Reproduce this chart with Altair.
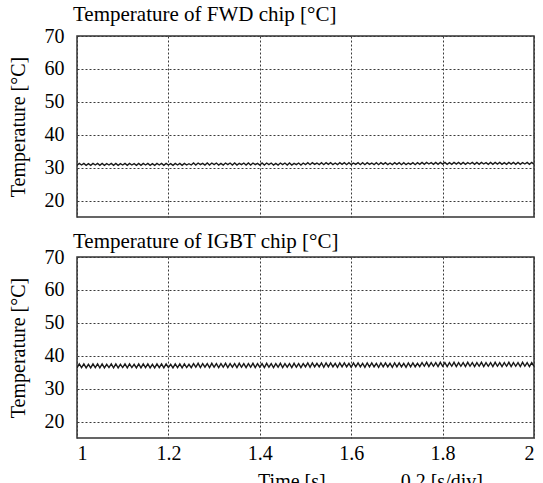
import altair as alt
import pandas as pd

# ---- data ----
time_s = [
    1.000, 1.005, 1.010, 1.015, 1.020, 1.025, 1.030, 1.035, 1.040, 1.045,
    1.050, 1.055, 1.060, 1.065, 1.070, 1.075, 1.080, 1.085, 1.090, 1.095,
    1.100, 1.105, 1.110, 1.115, 1.120, 1.125, 1.130, 1.135, 1.140, 1.145,
    1.150, 1.155, 1.160, 1.165, 1.170, 1.175, 1.180, 1.185, 1.190, 1.195,
    1.200, 1.205, 1.210, 1.215, 1.220, 1.225, 1.230, 1.235, 1.240, 1.245,
    1.250, 1.255, 1.260, 1.265, 1.270, 1.275, 1.280, 1.285, 1.290, 1.295,
    1.300, 1.305, 1.310, 1.315, 1.320, 1.325, 1.330, 1.335, 1.340, 1.345,
    1.350, 1.355, 1.360, 1.365, 1.370, 1.375, 1.380, 1.385, 1.390, 1.395,
    1.400, 1.405, 1.410, 1.415, 1.420, 1.425, 1.430, 1.435, 1.440, 1.445,
    1.450, 1.455, 1.460, 1.465, 1.470, 1.475, 1.480, 1.485, 1.490, 1.495,
    1.500, 1.505, 1.510, 1.515, 1.520, 1.525, 1.530, 1.535, 1.540, 1.545,
    1.550, 1.555, 1.560, 1.565, 1.570, 1.575, 1.580, 1.585, 1.590, 1.595,
    1.600, 1.605, 1.610, 1.615, 1.620, 1.625, 1.630, 1.635, 1.640, 1.645,
    1.650, 1.655, 1.660, 1.665, 1.670, 1.675, 1.680, 1.685, 1.690, 1.695,
    1.700, 1.705, 1.710, 1.715, 1.720, 1.725, 1.730, 1.735, 1.740, 1.745,
    1.750, 1.755, 1.760, 1.765, 1.770, 1.775, 1.780, 1.785, 1.790, 1.795,
    1.800, 1.805, 1.810, 1.815, 1.820, 1.825, 1.830, 1.835, 1.840, 1.845,
    1.850, 1.855, 1.860, 1.865, 1.870, 1.875, 1.880, 1.885, 1.890, 1.895,
    1.900, 1.905, 1.910, 1.915, 1.920, 1.925, 1.930, 1.935, 1.940, 1.945,
    1.950, 1.955, 1.960, 1.965, 1.970, 1.975, 1.980, 1.985, 1.990, 1.995,
    2.000,
]

fwd_temp = [
    30.7, 31.3, 30.8, 31.3, 30.7, 31.2, 30.7, 31.3, 30.8, 31.3,
    30.7, 31.3, 30.7, 31.2, 30.8, 31.3, 30.7, 31.3, 30.7, 31.2,
    30.8, 31.3, 30.7, 31.3, 30.8, 31.2, 30.7, 31.3, 30.7, 31.3,
    30.8, 31.3, 30.7, 31.2, 30.7, 31.3, 30.8, 31.3, 30.7, 31.3,
    30.8, 31.2, 30.7, 31.3, 30.8, 31.3, 30.7, 31.3, 30.8, 31.2,
    30.8, 31.4, 30.8, 31.4, 30.9, 31.3, 30.8, 31.4, 30.8, 31.4,
    30.9, 31.4, 30.8, 31.3, 30.8, 31.4, 30.9, 31.4, 30.8, 31.4,
    30.8, 31.3, 30.9, 31.4, 30.8, 31.4, 30.8, 31.4, 30.9, 31.3,
    30.8, 31.4, 30.8, 31.4, 30.9, 31.4, 30.8, 31.3, 30.8, 31.4,
    30.9, 31.4, 30.8, 31.4, 30.8, 31.3, 30.9, 31.4, 30.8, 31.4,
    30.9, 31.5, 30.9, 31.5, 31.0, 31.4, 30.9, 31.5, 30.9, 31.5,
    31.0, 31.5, 30.9, 31.4, 30.9, 31.5, 31.0, 31.5, 30.9, 31.5,
    30.9, 31.4, 31.0, 31.5, 30.9, 31.5, 30.9, 31.5, 31.0, 31.4,
    30.9, 31.5, 30.9, 31.5, 31.0, 31.5, 30.9, 31.4, 30.9, 31.5,
    31.0, 31.5, 30.9, 31.5, 30.9, 31.4, 31.0, 31.5, 30.9, 31.5,
    31.0, 31.6, 31.0, 31.6, 31.1, 31.5, 31.0, 31.6, 31.0, 31.6,
    31.1, 31.6, 31.0, 31.5, 31.0, 31.6, 31.1, 31.6, 31.0, 31.6,
    31.0, 31.5, 31.1, 31.6, 31.0, 31.6, 31.0, 31.6, 31.1, 31.5,
    31.0, 31.6, 31.0, 31.6, 31.1, 31.6, 31.0, 31.5, 31.0, 31.6,
    31.1, 31.6, 31.0, 31.6, 31.0, 31.5, 31.1, 31.6, 31.0, 31.6,
    31.0,
]

igbt_temp = [
    36.3, 37.5, 36.4, 37.5, 36.3, 37.4, 36.3, 37.5, 36.4, 37.5,
    36.3, 37.5, 36.3, 37.4, 36.4, 37.5, 36.3, 37.5, 36.3, 37.4,
    36.4, 37.5, 36.3, 37.5, 36.4, 37.4, 36.3, 37.5, 36.3, 37.5,
    36.4, 37.5, 36.3, 37.4, 36.3, 37.5, 36.4, 37.5, 36.3, 37.5,
    36.4, 37.4, 36.3, 37.5, 36.4, 37.5, 36.3, 37.5, 36.4, 37.4,
    36.4, 37.6, 36.5, 37.7, 36.4, 37.6, 36.5, 37.6, 36.4, 37.7,
    36.5, 37.6, 36.4, 37.6, 36.5, 37.7, 36.4, 37.6, 36.5, 37.6,
    36.4, 37.7, 36.5, 37.6, 36.4, 37.6, 36.5, 37.7, 36.4, 37.6,
    36.5, 37.6, 36.4, 37.7, 36.5, 37.6, 36.4, 37.6, 36.5, 37.7,
    36.4, 37.6, 36.5, 37.6, 36.4, 37.7, 36.5, 37.6, 36.4, 37.6,
    36.6, 37.8, 36.5, 37.8, 36.6, 37.7, 36.6, 37.8, 36.5, 37.8,
    36.6, 37.8, 36.6, 37.7, 36.5, 37.8, 36.6, 37.8, 36.6, 37.7,
    36.5, 37.8, 36.6, 37.8, 36.6, 37.7, 36.5, 37.8, 36.6, 37.8,
    36.6, 37.7, 36.5, 37.8, 36.6, 37.8, 36.6, 37.7, 36.5, 37.8,
    36.6, 37.8, 36.6, 37.7, 36.5, 37.8, 36.6, 37.8, 36.6, 37.7,
    36.7, 37.9, 36.8, 38.0, 36.7, 37.9, 36.8, 37.9, 36.7, 38.0,
    36.8, 37.9, 36.7, 37.9, 36.8, 38.0, 36.7, 37.9, 36.8, 37.9,
    36.7, 38.0, 36.8, 37.9, 36.7, 37.9, 36.8, 38.0, 36.7, 37.9,
    36.8, 37.9, 36.7, 38.0, 36.8, 37.9, 36.7, 37.9, 36.8, 38.0,
    36.7, 37.9, 36.8, 37.9, 36.7, 38.0, 36.8, 37.9, 36.7, 37.9,
    36.8,
]

x_ticks = [1, 1.2, 1.4, 1.6, 1.8, 2]
y_ticks = [20, 30, 40, 50, 60, 70]
x_domain = [1, 2]
y_domain = [15, 70]

titles = ["Temperature of FWD chip [°C]", "Temperature of IGBT chip [°C]"]
y_title = "Temperature [°C]"
x_title = "Time [s]" + "\u00a0" * 15 + "0.2 [s/div]"

FONT = "Liberation Serif"
W, H = 457, 181
GRID = dict(grid=True, gridColor="#3a3a3a", gridDash=[2, 2], gridWidth=1, gridOpacity=1)

df_fwd = pd.DataFrame({"t": time_s, "T": fwd_temp})
df_igbt = pd.DataFrame({"t": time_s, "T": igbt_temp})


def panel(df, title, bottom, title_offset):
    if bottom:
        x_axis = alt.Axis(
            values=x_ticks, format="~g", ticks=False, domain=False,
            labelFont=FONT, labelFontSize=20, labelColor="black", labelPadding=5,
            title=x_title, titleFont=FONT, titleFontSize=20, titleFontWeight="normal",
            titleColor="black", titleX=293, titleAlign="center", titlePadding=8,
            **GRID,
        )
    else:
        x_axis = alt.Axis(values=x_ticks, ticks=False, domain=False,
                          labels=False, title=None, **GRID)
    y_axis = alt.Axis(
        values=y_ticks, ticks=False, domain=False,
        labelFont=FONT, labelFontSize=20, labelColor="black", labelPadding=13,
        title=y_title, titleFont=FONT, titleFontSize=20, titleFontWeight="normal",
        titleColor="black", titlePadding=16, **GRID,
    )
    return (
        alt.Chart(df)
        .mark_line(color="#1a1a1a", strokeWidth=1.4, clip=True)
        .encode(
            x=alt.X("t:Q", scale=alt.Scale(domain=x_domain, nice=False, zero=False), axis=x_axis),
            y=alt.Y("T:Q", scale=alt.Scale(domain=y_domain, nice=False, zero=False), axis=y_axis),
        )
        .properties(
            width=W, height=H,
            title=alt.TitleParams(
                text=title, anchor="start", frame="group", font=FONT, fontSize=21,
                fontWeight="normal", color="black", offset=title_offset, dx=-4,
            ),
        )
    )


chart = (
    alt.vconcat(
        panel(df_fwd, titles[0], False, 1),
        panel(df_igbt, titles[1], True, -5),
        spacing=12,
    )
    .configure(padding={"left": 7, "top": 3, "right": 5, "bottom": 5},
               background="white", font=FONT)
    .configure_view(stroke="#333333", strokeWidth=1.5)
)

chart.save("out.html", embed_options={"renderer": "svg", "actions": False})
